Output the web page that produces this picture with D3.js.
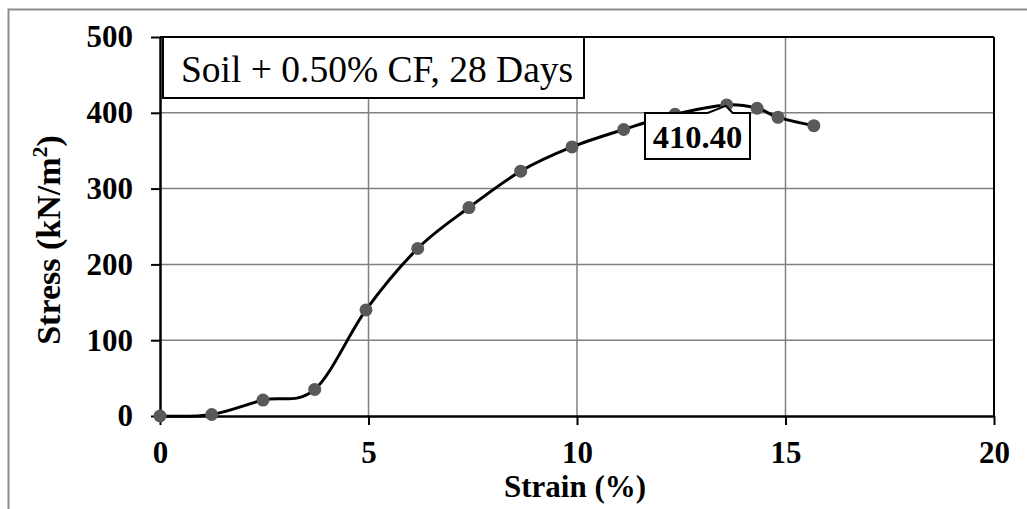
<!DOCTYPE html>
<html><head><meta charset="utf-8">
<script src="https://cdn.jsdelivr.net/npm/d3@7"></script>
<style>
html,body{margin:0;padding:0;background:#fff;}
svg{display:block;}
</style></head>
<body>
<script>
const strain = [0, 1.24, 2.47, 3.71, 4.94, 6.18, 7.41, 8.65, 9.88, 11.12, 12.35, 13.59, 14.32, 14.82, 15.68];
const stress = [0, 2, 21, 35, 140, 221, 275, 323, 355, 378, 398, 410.4, 406, 394, 383];
const xTicks = [0, 5, 10, 15, 20];
const yTicks = [0, 100, 200, 300, 400, 500];
const peakLabel = "410.40";
const titleText = "Soil + 0.50% CF, 28 Days";
const xTitle = "Strain (%)";

const FONT = "Liberation Serif";
const W = 1027, H = 509;
const svg = d3.select("body").append("svg").attr("width", W).attr("height", H);

// outer frame
svg.append("rect").attr("x", 8.5).attr("y", 9.5).attr("width", W + 20).attr("height", H + 20)
  .attr("fill", "none").attr("stroke", "#8c8c8c").attr("stroke-width", 2);

const L = 160, R = 994, T = 37, B = 416;
const x = d3.scaleLinear().domain([0, 20]).range([L, R]);
const y = d3.scaleLinear().domain([0, 500]).range([B, T]);

// gridlines
svg.append("g").selectAll("line").data(xTicks.filter(d => d > 0 && d < 20)).join("line")
  .attr("x1", d => x(d)).attr("x2", d => x(d)).attr("y1", T).attr("y2", B)
  .attr("stroke", "#808080").attr("stroke-width", 1.5);
svg.append("g").selectAll("line").data(yTicks.filter(d => d > 0 && d < 500)).join("line")
  .attr("x1", L).attr("x2", R).attr("y1", d => y(d)).attr("y2", d => y(d))
  .attr("stroke", "#808080").attr("stroke-width", 1.5);

// plot border top/right
svg.append("line").attr("x1", L).attr("x2", R).attr("y1", T).attr("y2", T).attr("stroke", "#000").attr("stroke-width", 2);
svg.append("line").attr("x1", R).attr("x2", R).attr("y1", T).attr("y2", B).attr("stroke", "#000").attr("stroke-width", 2);

// axes
const xAxis = d3.axisBottom(x).tickValues(xTicks).tickSize(9).tickSizeOuter(0).tickPadding(16);
const gx = svg.append("g").attr("transform", `translate(0,${B})`).call(xAxis);
gx.attr("font-family", FONT);
gx.select(".domain").attr("stroke", "#000").attr("stroke-width", 2.5);
gx.selectAll(".tick line").attr("stroke", "#000").attr("stroke-width", 2);
gx.selectAll(".tick text").attr("font-family", FONT).attr("font-size", 31).attr("font-weight", "bold").attr("fill", "#000");

const yAxis = d3.axisLeft(y).tickValues(yTicks).tickSize(9).tickSizeOuter(0).tickPadding(18);
const gy = svg.append("g").attr("transform", `translate(${L},0)`).call(yAxis);
gy.attr("font-family", FONT);
gy.select(".domain").attr("stroke", "#000").attr("stroke-width", 2.5);
gy.selectAll(".tick line").attr("stroke", "#000").attr("stroke-width", 2);
gy.selectAll(".tick text").attr("font-family", FONT).attr("font-size", 31).attr("font-weight", "bold").attr("fill", "#000");

// axis titles
svg.append("text").attr("x", 575).attr("y", 497).attr("text-anchor", "middle")
  .attr("font-family", FONT).attr("font-size", 31).attr("font-weight", "bold").text(xTitle);
const yt = svg.append("text").attr("transform", `translate(60,240) rotate(-90)`)
  .attr("text-anchor", "middle").attr("font-family", FONT).attr("font-size", 34).attr("font-weight", "bold");
yt.append("tspan").text("Stress (kN/m");
yt.append("tspan").attr("font-size", 22).attr("dy", -13).text("2");
yt.append("tspan").attr("dy", 13).text(")");

// curve
const pts = strain.map((s, i) => [s, stress[i]]);
const line = d3.line().x(d => x(d[0])).y(d => y(d[1])).curve(d3.curveCatmullRom.alpha(0));
svg.append("path").datum(pts).attr("d", line).attr("fill", "none").attr("stroke", "#000").attr("stroke-width", 3);
svg.append("g").selectAll("circle").data(pts).join("circle")
  .attr("cx", d => x(d[0])).attr("cy", d => y(d[1])).attr("r", 6.5).attr("fill", "#595959");

// peak callout
const peakIdx = stress.indexOf(d3.max(stress));
const px = x(strain[peakIdx]), py = y(stress[peakIdx]);
const bx0 = 645, bx1 = 750, by0 = 113, by1 = 159;
svg.append("path")
  .attr("d", `M${bx0},${by0} L${px - 19},${by0} L${px - 1},${py + 1} L${px + 6},${by0} L${bx1},${by0} L${bx1},${by1} L${bx0},${by1} Z`)
  .attr("fill", "#fff").attr("stroke", "#000").attr("stroke-width", 2);
svg.append("text").attr("x", (bx0 + bx1) / 2).attr("y", 148).attr("text-anchor", "middle")
  .attr("font-family", FONT).attr("font-size", 32.5).attr("font-weight", "bold").text(peakLabel);

// title box
svg.append("rect").attr("x", 163).attr("y", 37).attr("width", 421).attr("height", 61)
  .attr("fill", "#fff").attr("stroke", "#000").attr("stroke-width", 2);
svg.append("text").attr("x", 181).attr("y", 82).attr("font-family", FONT).attr("font-size", 37.5).text(titleText);
</script>
</body></html>
